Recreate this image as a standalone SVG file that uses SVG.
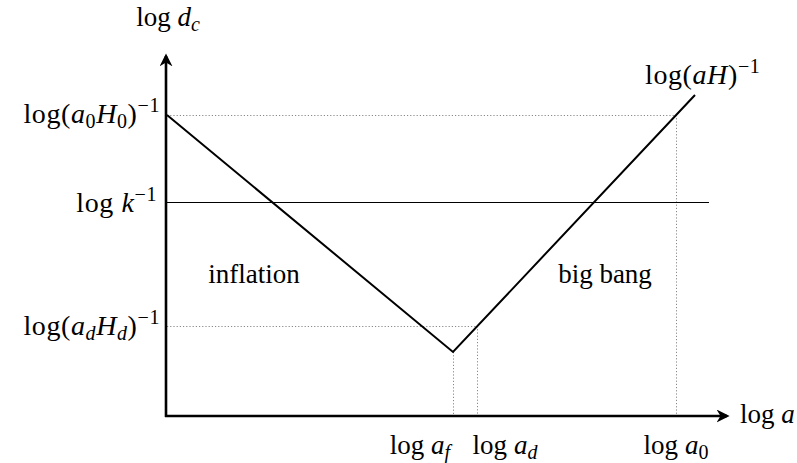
<svg xmlns="http://www.w3.org/2000/svg" width="797" height="463" viewBox="0 0 797 463">
<style>
text{font-family:"Liberation Serif","DejaVu Serif",serif;font-size:27px;fill:#000}
.L{font-size:28px;letter-spacing:0.6px}
.i{font-style:italic}
.s{font-size:20px}
.axis{stroke:#000;stroke-width:2.6;fill:none}
.dot{stroke:#888;stroke-width:1;stroke-dasharray:1.2 2;fill:none}
.thin{stroke:#000;stroke-width:1.1;fill:none}
.curve{stroke:#000;stroke-width:2;fill:none;stroke-linejoin:miter}
</style>
<defs>
<marker id="ah" viewBox="0 0 10 10" refX="8" refY="5" markerWidth="5" markerHeight="5" orient="auto" markerUnits="strokeWidth">
<path d="M0,0 L10,5 L0,10 L3,5 z" fill="#000"/>
</marker>
</defs>
<g id="connectors">
<path class="dot" d="M167,115.5 H676 M167,326.5 H477 M453.5,352 V416 M477.5,326 V416 M676.5,115 V416"/>
<path class="thin" d="M167,202.5 H709"/>
<path class="curve" d="M167,115 L453,352 L695,95"/>
<path class="axis" d="M166,417 V56" marker-end="url(#ah)"/>
<path class="axis" d="M165,416 H727" marker-end="url(#ah)"/>
</g>
<g id="labels">
<text x="168" y="26" text-anchor="middle">log <tspan class="i">d</tspan><tspan class="i s" dy="5">c</tspan></text>
<text class="L" x="160" y="123" text-anchor="end">log(<tspan class="i">a</tspan><tspan class="s" dy="5">0</tspan><tspan class="i" dy="-5">H</tspan><tspan class="s" dy="5">0</tspan><tspan dy="-5">)</tspan><tspan class="s" dy="-11">−1</tspan></text>
<text class="L" x="157" y="212" text-anchor="end">log <tspan class="i">k</tspan><tspan class="s" dy="-11">−1</tspan></text>
<text class="L" x="160" y="335" text-anchor="end">log(<tspan class="i">a</tspan><tspan class="i s" dy="5">d</tspan><tspan class="i" dy="-5">H</tspan><tspan class="i s" dy="5">d</tspan><tspan dy="-5">)</tspan><tspan class="s" dy="-11">−1</tspan></text>
<text x="254" y="283" text-anchor="middle">inflation</text>
<text x="605" y="283" text-anchor="middle">big bang</text>
<text class="L" x="645" y="84">log(<tspan class="i">aH</tspan>)<tspan class="s" dy="-11">−1</tspan></text>
<text x="740" y="423">log <tspan class="i">a</tspan></text>
<text x="420" y="454" text-anchor="middle">log <tspan class="i">a</tspan><tspan class="i s" dy="5">f</tspan></text>
<text x="505" y="454" text-anchor="middle">log <tspan class="i">a</tspan><tspan class="i s" dy="5">d</tspan></text>
<text x="676" y="454" text-anchor="middle">log <tspan class="i">a</tspan><tspan class="s" dy="5">0</tspan></text>
</g>
</svg>
